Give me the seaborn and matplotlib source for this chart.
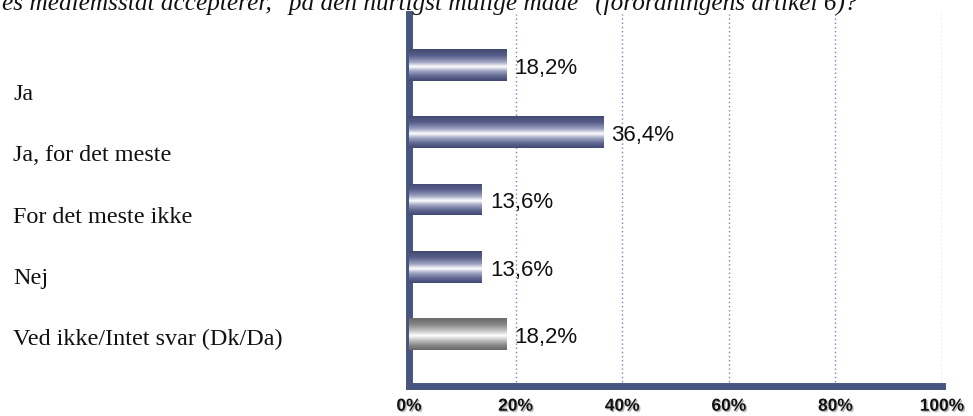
import numpy as np
import matplotlib
matplotlib.use("Agg")
import matplotlib.pyplot as plt
from matplotlib.colors import LinearSegmentedColormap
import matplotlib.patheffects as pe
import seaborn as sns

# ---- data ----
categories = ["Ja", "Ja, for det meste", "For det meste ikke", "Nej",
              "Ved ikke/Intet svar (Dk/Da)"]
values = [18.2, 36.4, 13.6, 13.6, 18.2]
value_labels = ["18,2%", "36,4%", "13,6%", "13,6%", "18,2%"]
xticks = [0, 20, 40, 60, 80, 100]
xtick_labels = ["0%", "20%", "40%", "60%", "80%", "100%"]
title = 'es medlemsstat accepterer, "på den hurtigst mulige måde" (forordningens artikel 6)?'

sns.set_theme(style="white")
plt.rcParams["font.family"] = ["Liberation Sans", "DejaVu Sans"]

W, H = 973, 416
fig = plt.figure(figsize=(W / 100, H / 100), dpi=100)
left, right, top, bottom = 409, 942, 14, 385.5
ax = fig.add_axes([left / W, 1 - bottom / H, (right - left) / W, (bottom - top) / H])

sns.barplot(x=values, y=categories, orient="h", width=0.475, ax=ax,
            color="#4a5078", saturation=1)

navy = LinearSegmentedColormap.from_list(
    "navy", [(0, "#424971"), (0.2, "#575e8a"), (0.4, "#9ca1c0"),
             (0.55, "#ffffff"), (0.68, "#a3a8c5"), (0.85, "#5f6690"), (1, "#404770")])
grey = LinearSegmentedColormap.from_list(
    "grey", [(0, "#696969"), (0.2, "#858585"), (0.4, "#c4c4c4"),
             (0.55, "#ffffff"), (0.68, "#c8c8c8"), (0.85, "#888888"), (1, "#676767")])
grad = np.linspace(0, 1, 256).reshape(-1, 1)

for i, patch in enumerate(ax.patches):
    x0, y0 = patch.get_x(), patch.get_y()
    w, h = patch.get_width(), patch.get_height()
    patch.set_facecolor("none")
    patch.set_edgecolor("none")
    cmap = grey if i == len(categories) - 1 else navy
    im = ax.imshow(grad, cmap=cmap, aspect="auto", extent=[x0, x0 + w, y0 + h, y0],
                   zorder=3, interpolation="bilinear")
    im.set_clip_path(patch)
    ax.annotate(value_labels[i], xy=(x0 + w, y0 + h / 2), xytext=(6, -2.5),
                textcoords="offset points", va="center", ha="left",
                fontsize=16, color="#111111", zorder=5)

ax.set_xlim(0, 100)
ax.set_ylim(4.766, -0.758)
ax.set_xticks(xticks)
ax.set_xticklabels(xtick_labels, fontsize=12.5, fontweight="bold", color="#111111")
for t in ax.get_xticklabels():
    t.set_path_effects([pe.withSimplePatchShadow(offset=(1, -1), shadow_rgbFace="#888888",
                                                  alpha=0.6)])
ax.tick_params(axis="x", length=0, pad=9.5)
ax.set_yticks([])
ax.set_ylabel("")
ax.set_xlabel("")

ax.xaxis.grid(True, linestyle=(0, (1, 2)), color="#7d82b4", linewidth=1)
ax.set_axisbelow(True)
for s in ["top", "right"]:
    ax.spines[s].set_visible(False)
for s in ["left", "bottom"]:
    ax.spines[s].set_color("#48567f")
    ax.spines[s].set_linewidth(5)
    ax.spines[s].set_capstyle("projecting")

# category labels (left, serif)
label_y0, label_step = 100, 61.3
for i, c in enumerate(categories):
    fig.text(13 / W, 1 - (label_y0 + label_step * i) / H, c, ha="left", va="baseline",
             fontsize=17.4, family=["Liberation Serif", "DejaVu Serif"], color="#111111")

fig.text(2 / W, 1 - 10 / H, title, ha="left", va="baseline", fontsize=18.2,
         family=["Liberation Serif", "DejaVu Serif"], style="italic", color="#111111")

fig.savefig("out.png", dpi=100)
